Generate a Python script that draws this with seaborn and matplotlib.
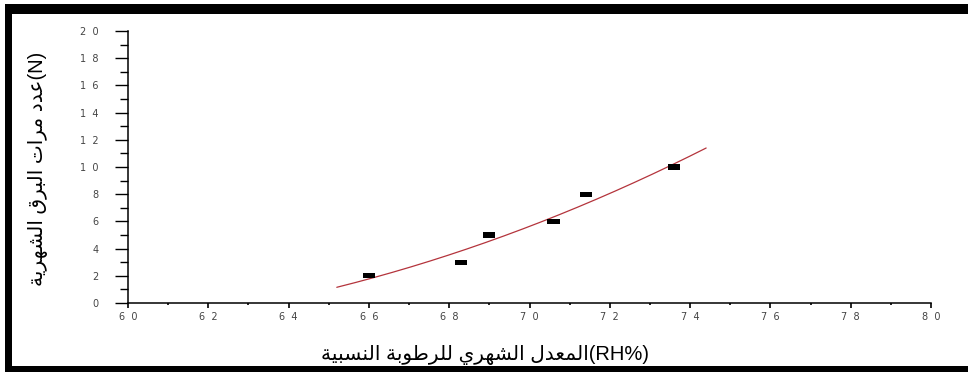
import numpy as np
import seaborn as sns
import matplotlib
matplotlib.use("Agg")
import matplotlib.pyplot as plt
from matplotlib.patches import Rectangle
from matplotlib.ticker import MultipleLocator

# Monthly mean relative humidity (%) and monthly number of lightning events
rh = [66.0, 68.3, 69.0, 70.6, 71.4, 73.6]
n_flash = [2, 3, 5, 6, 8, 10]
fit_range = (65.2, 74.4)

x_ticks = [60, 62, 64, 66, 68, 70, 72, 74, 76, 78, 80]
x_tick_labels = ["6  0", "6  2", "6  4", "6  6", "6  8", "7  0",
                 "7  2", "7  4", "7  6", "7  8", "8  0"]
y_ticks = [0, 2, 4, 6, 8, 10, 12, 14, 16, 18, 20]
y_tick_labels = ["0", "2", "4", "6", "8", "1  0",
                 "1  2", "1  4", "1  6", "1  8", "2  0"]

x_title_ar = "المعدل الشهري للرطوبة النسبية"
x_title_unit = "(RH%)"
y_title_ar = "عدد مرات البرق الشهرية"
y_title_unit = "(N)"

# Arabic presentation forms: (isolated, final, initial, medial)
FORMS = {
    "ا": (0xFE8D, 0xFE8E, None, None),
    "ب": (0xFE8F, 0xFE90, 0xFE91, 0xFE92),
    "ة": (0xFE93, 0xFE94, None, None),
    "ت": (0xFE95, 0xFE96, 0xFE97, 0xFE98),
    "د": (0xFEA9, 0xFEAA, None, None),
    "ر": (0xFEAD, 0xFEAE, None, None),
    "س": (0xFEB1, 0xFEB2, 0xFEB3, 0xFEB4),
    "ش": (0xFEB5, 0xFEB6, 0xFEB7, 0xFEB8),
    "ط": (0xFEC1, 0xFEC2, 0xFEC3, 0xFEC4),
    "ع": (0xFEC9, 0xFECA, 0xFECB, 0xFECC),
    "ق": (0xFED5, 0xFED6, 0xFED7, 0xFED8),
    "ل": (0xFEDD, 0xFEDE, 0xFEDF, 0xFEE0),
    "م": (0xFEE1, 0xFEE2, 0xFEE3, 0xFEE4),
    "ن": (0xFEE5, 0xFEE6, 0xFEE7, 0xFEE8),
    "ه": (0xFEE9, 0xFEEA, 0xFEEB, 0xFEEC),
    "و": (0xFEED, 0xFEEE, None, None),
    "ي": (0xFEF1, 0xFEF2, 0xFEF3, 0xFEF4),
}


def shape_arabic(text):
    """Join Arabic letters into contextual forms and return them in visual order."""
    out = []
    for i, ch in enumerate(text):
        if ch not in FORMS:
            out.append(ch)
            continue
        prev = text[i - 1] if i > 0 else ""
        nxt = text[i + 1] if i + 1 < len(text) else ""
        forms = FORMS[ch]
        joins_prev = prev in FORMS and FORMS[prev][2] is not None
        joins_next = forms[2] is not None and nxt in FORMS
        if joins_prev and joins_next:
            cp = forms[3]
        elif joins_prev:
            cp = forms[1]
        elif joins_next:
            cp = forms[2]
        else:
            cp = forms[0]
        out.append(chr(cp))
    return "".join(out)[::-1]


sns.set_theme(style="ticks")
plt.rcParams["font.family"] = ["DejaVu Sans"]

W, H = 968, 375
fig = plt.figure(figsize=(W / 100, H / 100), dpi=100)
fig.patch.set_facecolor("white")
ax = fig.add_axes([128 / W, 72 / H, 803 / W, 272 / H])
ax.set_facecolor("white")

# polynomial fit through the monthly values
coefs = np.polyfit(rh, n_flash, 2)
xs = np.linspace(fit_range[0], fit_range[1], 200)
sns.lineplot(x=xs, y=np.polyval(coefs, xs), ax=ax, color="#b4343c",
             linewidth=0.9, zorder=2)

bar_marker = [(-1.2, -0.5), (1.2, -0.5), (1.2, 0.5), (-1.2, 0.5), (-1.2, -0.5)]
sns.scatterplot(x=rh, y=n_flash, ax=ax, marker=bar_marker, s=8.8 ** 2,
                color="black", edgecolor="none", linewidth=0, zorder=3)

ax.set_xlim(60, 80)
ax.set_ylim(0, 20)
for side in ("top", "right"):
    ax.spines[side].set_visible(False)
for side in ("left", "bottom"):
    ax.spines[side].set_color("black")
    ax.spines[side].set_linewidth(1.1)

ax.set_xticks(x_ticks, x_tick_labels)
ax.set_yticks(y_ticks, y_tick_labels)
ax.xaxis.set_minor_locator(MultipleLocator(1))
ax.yaxis.set_minor_locator(MultipleLocator(1))
ax.tick_params(axis="x", which="both", bottom=True, top=False)
ax.tick_params(axis="y", which="both", left=True, right=False)
ax.tick_params(axis="x", which="major", direction="out", length=3.4, width=1.2,
               color="black", pad=3, labelsize=7, labelcolor="#444444")
ax.tick_params(axis="x", which="minor", direction="out", length=1.6, width=1.2,
               color="black")
ax.tick_params(axis="y", which="major", direction="out", length=9.4, width=1.0,
               color="black", pad=12, labelsize=7, labelcolor="#444444")
ax.tick_params(axis="y", which="minor", direction="out", length=5.8, width=1.0,
               color="black")
ax.set_xlabel("")
ax.set_ylabel("")
ax.grid(False)

label_font = ["Liberation Sans", "DejaVu Sans"]
fig.text(485 / W, 1 - 355 / H, shape_arabic(x_title_ar) + x_title_unit,
         ha="center", va="center", fontsize=14.5, color="black", family=label_font)
fig.text(38 / W, 1 - 169 / H, shape_arabic(y_title_ar) + y_title_unit,
         ha="center", va="center", rotation=90, fontsize=14.5, color="black",
         family=label_font)

# thick black page frame
frame = dict(transform=fig.transFigure, facecolor="black", edgecolor="none",
             zorder=10)
fig.add_artist(Rectangle((5 / W, 1 - 14 / H), 1 - 5 / W, 10 / H, **frame))
fig.add_artist(Rectangle((5 / W, 1 - 372 / H), 7 / W, 368 / H, **frame))
fig.add_artist(Rectangle((5 / W, 1 - 372 / H), 1 - 5 / W, 6 / H, **frame))

fig.savefig("out.png", dpi=100, facecolor="white")
